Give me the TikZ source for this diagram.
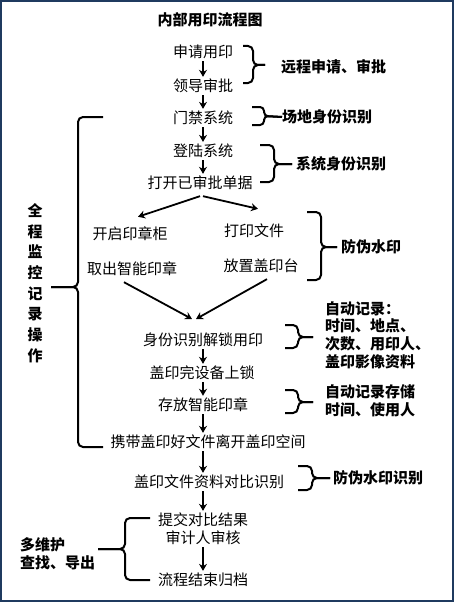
\documentclass[tikz,border=0pt]{standalone}
\usepackage{fontspec}
\setmainfont{Noto Sans CJK SC}
\usepackage{tikz}
\usepackage{xcolor}
\usetikzlibrary{arrows.meta,positioning,calc}
\definecolor{ink}{HTML}{000000}
\definecolor{framenavy}{HTML}{1F3A5F}
\tikzset{
  stepnode/.style={font=\fontsize{15}{18}\selectfont,text=ink,
                   inner sep=2pt,align=center},
  notelabel/.style={font=\fontsize{15}{17.7}\selectfont\bfseries,text=ink,
                    inner sep=0pt,anchor=west,align=left},
  flowarr/.style={-{Stealth[length=7pt,width=8pt]},line width=1.8pt,draw=ink},
  bracket/.style={draw=ink,line width=2pt,rounded corners=5pt}
}

\begin{document}
\begin{tikzpicture}[x=1pt,y=-1pt,>=Stealth]
  \useasboundingbox (0,0) rectangle (454,602);
  \draw[framenavy,line width=2pt] (1,1) rectangle (453,601);

  % title
  \node[stepnode,font=\fontsize{15}{18}\selectfont\bfseries] (title) at (210,20) {内部用印流程图};

  % main flow
  \node[stepnode] (apply)    at (203,52)  {申请用印};
  \node[stepnode] (approve)  at (203,86)  {领导审批};
  \node[stepnode] (gate)     at (203,118) {门禁系统};
  \node[stepnode] (login)    at (203,151) {登陆系统};
  \node[stepnode] (openform) at (200,183) {打开已审批单据};
  \node[stepnode] (cabinet)  at (130,234) {开启印章柜};
  \node[stepnode] (printdoc) at (254,231) {打印文件};
  \node[stepnode] (takeseal) at (132,269) {取出智能印章};
  \node[stepnode] (pad)      at (261,266) {放置盖印台};
  \coordinate (merge) at (194,319);
  \node[stepnode] (unlock)   at (203,340) {身份识别解锁用印};
  \node[stepnode] (lockdev)  at (202,373) {盖印完设备上锁};
  \node[stepnode] (store)    at (203,405) {存放智能印章};
  \node[stepnode] (leave)    at (208,442) {携带盖印好文件离开盖印空间};
  \node[stepnode] (compare)  at (209,482) {盖印文件资料对比识别};
  \node[stepnode] (submit)   at (203,529) {提交对比结果\\审计人审核};
  \node[stepnode] (archive)  at (203,580) {流程结束归档};

  \draw[flowarr] (apply) -- (approve);
  \draw[flowarr] (approve) -- (gate);
  \draw[flowarr] (gate) -- (login);
  \draw[flowarr] (login) -- (login |- openform.north);
  \draw[flowarr] ($(openform.south)+(0,4)$) -- ($(cabinet.north)+(8,-8)$);
  \draw[flowarr] ($(openform.south)+(3,4)$) -- ($(printdoc.north)+(4,-13)$);
  \draw[flowarr] ($(takeseal.south)+(-8,4)$) -- ([xshift=-2pt]merge);
  \draw[flowarr] ($(pad.south)+(6,4)$) -- ([xshift=2pt]merge);
  \draw[flowarr] (unlock) -- (unlock |- lockdev.north);
  \draw[flowarr] (lockdev.south -| unlock) -- (unlock |- store.north);
  \draw[flowarr] (store) -- (store |- leave.north);
  \draw[flowarr] (leave.south -| store) -- (store |- compare.north);
  \draw[flowarr] (compare.south -| store) -- (store |- submit.north);
  \draw[flowarr] (submit) -- (archive);

  % right side notes
  \node[notelabel] (remote)  at (281,67)  {远程申请、审批};
  \node[notelabel] (site)    at (282,117) {场地身份识别};
  \node[notelabel] (sysid)   at (296,164) {系统身份识别};
  \node[notelabel] (water)   at (341,247) {防伪水印};
  \node[notelabel] (autorec) at (325,335) {自动记录：\\时间、地点、\\次数、用印人、\\盖印影像资料};
  \node[notelabel] (autosto) at (325,401) {自动记录存储\\时间、使用人};
  \node[notelabel] (wcheck)  at (333,478) {防伪水印识别};

  \draw[bracket] (243,46) -| (253,65) -- (265,65);
  \draw[bracket] (243,83) -| (253,65) -- (265,65);
  \draw[bracket,rounded corners=4pt] (252,107) -| (264,116) -- (site.west);
  \draw[bracket,rounded corners=4pt] (252,125) -| (264,116) -- (site.west);
  \draw[bracket] (260,145) -| (274,164) -- (292,164);
  \draw[bracket] (260,182) -| (274,164) -- (292,164);
  \draw[bracket] (307,212) -| (321,247) -- (337,247);
  \draw[bracket] (307,280) -| (321,247) -- (337,247);
  \draw[bracket] (285,325) -| (298,337) -- (313,337);
  \draw[bracket] (285,348) -| (298,337) -- (313,337);
  \draw[bracket] (285,390) -| (298,402) -- (313,402);
  \draw[bracket] (285,413) -| (298,402) -- (313,402);
  \draw[bracket] (298,466) -| (312,478) -- (330,478);
  \draw[bracket] (298,490) -| (312,478) -- (330,478);

  % left side notes
  \node[notelabel,anchor=center,align=center,
        font=\fontsize{15}{20.7}\selectfont\bfseries] (monitor) at (35,283)
        {全\\程\\监\\控\\记\\录\\操\\作};
  \node[notelabel] (query) at (20,554) {多维护\\查找、导出};

  \draw[bracket] (103,117) -| (78,287) -- (51,287);
  \draw[bracket] (103,447) -| (78,287) -- (51,287);
  \draw[bracket] (150,518) -| (125,549) -- (98,549);
  \draw[bracket] (150,580) -| (125,549) -- (98,549);
\end{tikzpicture}
\end{document}
